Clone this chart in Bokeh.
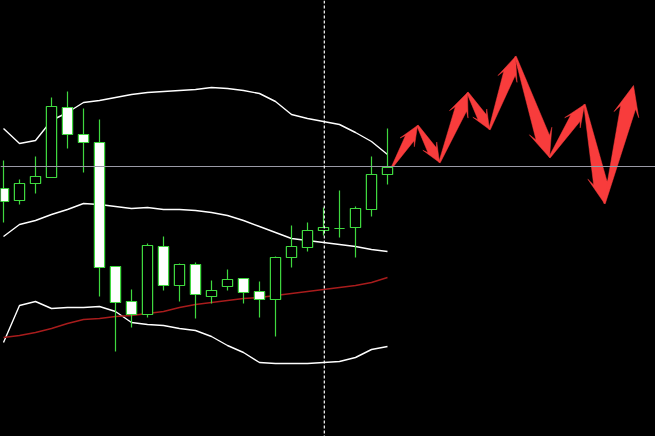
import numpy as np
from bokeh.plotting import figure
from bokeh.models import Range1d, Span, GlobalInlineStyleSheet
from bokeh.embed import file_html
from bokeh.resources import INLINE

# ---- data (price in chart points) ----
bar_index = list(range(25))
opens  = [248, 236, 253, 259, 329, 302, 294, 170, 135, 122, 190, 151, 172, 140, 150, 158, 145, 137, 179, 189, 206, 208, 209, 227, 262]
highs  = [276, 257, 280, 339, 345, 328, 317, 170, 147, 193, 200, 173, 174, 156, 167, 158, 155, 180, 211, 214, 229, 246, 230, 280, 308]
lows   = [214, 232, 243, 259, 288, 264, 140,  85, 109, 119, 146, 135, 118, 133, 146, 133, 119, 100, 169, 185, 201, 199, 179, 220, 252]
closes = [235, 253, 260, 330, 302, 294, 169, 134, 122, 191, 151, 172, 142, 146, 157, 144, 137, 179, 190, 206, 209, 208, 228, 262, 269]

band_upper  = [308, 293, 296, 316, 324, 334, 336, 339, 342, 344, 345, 346, 347, 349, 348, 346, 343, 335, 322, 318, 315, 312, 304, 295, 282]
band_middle = [200, 212, 216, 222, 227, 233, 232, 230, 228, 229, 227, 227, 226, 224, 221, 216, 210, 204, 198, 196, 194, 192, 190, 187, 185]
band_lower  = [ 94, 131, 135, 128, 129, 129, 130, 125, 114, 112, 111, 108, 106, 100,  91,  84,  74,  73,  73,  73,  74,  75,  79,  87,  90]
moving_avg  = [ 99, 101, 104, 108, 113, 117, 118, 120, 121, 123, 125, 129, 132, 134, 136, 138, 139, 141, 143, 145, 147, 149, 151, 154, 159]

bid_price = 270
marker_bar = 20.05

forecast_x = [24.31, 25.875, 27.25, 29.0, 30.375, 32.0, 34.125, 36.3125, 37.5625, 39.375]
forecast_y = [270, 311, 274, 344, 307, 380, 279, 332, 233, 351]

# ---- figure ----
W, H = 655, 436
X0, X1 = -0.1875, 40.75
p = figure(width=W, height=H, x_range=Range1d(X0, X1), y_range=Range1d(0, H),
           output_backend="svg", toolbar_location=None, min_border=0,
           background_fill_color="black", border_fill_color="black",
           outline_line_color=None)
p.axis.visible = False
p.grid.visible = False
p.stylesheets = [GlobalInlineStyleSheet(css="html,body{margin:0;padding:0;background:#000;overflow:hidden;}")]

GREEN = "#3fd83f"

# bid line
p.add_layout(Span(location=bid_price, dimension="width", line_color="#9a9aa6", line_width=1))
# vertical dashed line
p.add_layout(Span(location=marker_bar, dimension="height", line_color="white", line_width=1.2, line_dash="3 2"))

# bands and MA
p.line(bar_index, band_upper, line_color="white", line_width=1.4)
p.line(bar_index, band_middle, line_color="white", line_width=1.4)
p.line(bar_index, band_lower, line_color="white", line_width=1.4)
p.line(bar_index, moving_avg, line_color="#a81c1c", line_width=1.4)

# candles
o = np.array(opens, float); c = np.array(closes, float)
tops = np.maximum(o, c); bots = np.minimum(o, c)
fills = ["black" if cc >= oo else "white" for oo, cc in zip(opens, closes)]
p.segment(x0=bar_index, y0=lows, x1=bar_index, y1=highs, line_color=GREEN, line_width=1.2)
p.vbar(x=bar_index, width=0.64, top=tops, bottom=bots, fill_color=fills, line_color=GREEN, line_width=1.2)

# forecast arrows (built in screen scale from the zigzag points)
sx = W / (X1 - X0)
sy = 1.0
xs_list, ys_list = [], []
for i in range(len(forecast_x) - 1):
    a = np.array([forecast_x[i] * sx, forecast_y[i] * sy])
    b = np.array([forecast_x[i + 1] * sx, forecast_y[i + 1] * sy])
    d = b - a
    L = np.hypot(*d)
    u = d / L
    n = np.array([-u[1], u[0]])
    hl = 13 + 0.14 * L
    hw = hl * 0.85
    ws = hw * 0.6
    notch = b - u * hl * 0.75
    barb = b - u * hl
    pts = [a + n * 0.8, notch + n * ws / 2, barb + n * hw / 2, b,
           barb - n * hw / 2, notch - n * ws / 2, a - n * 0.8]
    xs_list.append([pt[0] / sx for pt in pts])
    ys_list.append([pt[1] / sy for pt in pts])
p.patches(xs_list, ys_list, fill_color="#f83c3c", line_color="#f83c3c", line_width=0.5)

open("out.html", "w").write(file_html(p, INLINE))
